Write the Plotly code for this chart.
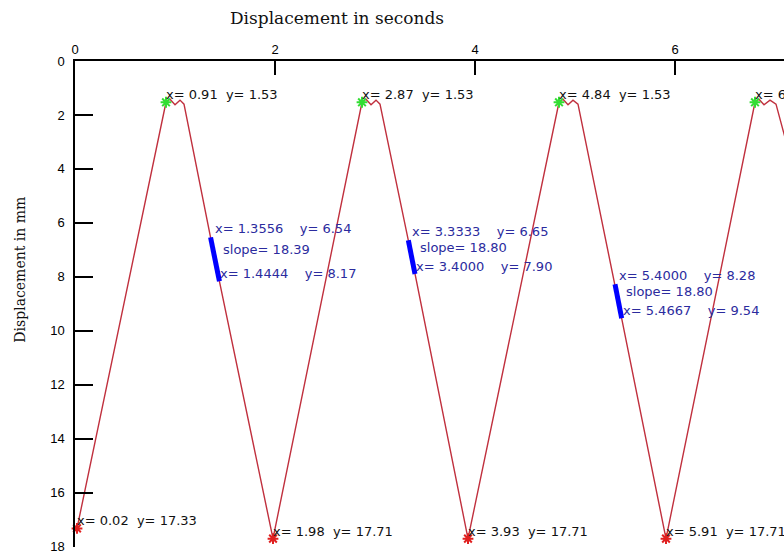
import plotly.graph_objects as go

# ---- data ----
wave_x = [0.02, 0.91, 0.95, 1.00, 1.05, 1.09, 1.3556, 1.4444, 1.98,
          2.87, 2.91, 2.96, 3.01, 3.05, 3.3333, 3.4000, 3.93,
          4.84, 4.88, 4.93, 4.98, 5.03, 5.4000, 5.4667, 5.91,
          6.80, 6.84, 6.89, 6.95, 7.01, 7.30]
wave_y = [17.33, 1.53, 1.42, 1.62, 1.45, 1.60, 6.54, 8.17, 17.71,
          1.53, 1.42, 1.62, 1.45, 1.60, 6.65, 7.90, 17.71,
          1.53, 1.42, 1.62, 1.45, 1.60, 8.28, 9.54, 17.71,
          1.53, 1.42, 1.62, 1.45, 1.60, 5.60]

peak_x = [0.91, 2.87, 4.84, 6.80]
peak_y = [1.53, 1.53, 1.53, 1.53]
low_x = [0.02, 1.98, 3.93, 5.91]
low_y = [17.33, 17.71, 17.71, 17.71]

seg_x0 = [1.3556, 3.3333, 5.4000]
seg_y0 = [6.54, 6.65, 8.28]
seg_x1 = [1.4444, 3.4000, 5.4667]
seg_y1 = [8.17, 7.90, 9.54]
seg_slope = [18.39, 18.80, 18.80]

x_ticks = [0, 2, 4, 6]
y_ticks = [0, 2, 4, 6, 8, 10, 12, 14, 16, 18]

NB = "\u00a0"
BLUE_TXT = "#2b2b9e"
LBL_FONT = dict(family="DejaVu Sans", size=13)

fig = go.Figure()

fig.add_trace(go.Scatter(x=wave_x, y=wave_y, mode="lines",
                         line=dict(color="#c0303e", width=1.4),
                         hoverinfo="skip", showlegend=False))

for x0, y0, x1, y1 in zip(seg_x0, seg_y0, seg_x1, seg_y1):
    fig.add_trace(go.Scatter(x=[x0, x1], y=[y0, y1], mode="lines",
                             line=dict(color="#0000ff", width=5),
                             showlegend=False, hoverinfo="skip"))

fig.add_trace(go.Scatter(x=peak_x, y=peak_y, mode="markers",
                         marker=dict(symbol="asterisk-open", size=9, color="#33dd33",
                                     line=dict(color="#33dd33", width=2)),
                         showlegend=False, cliponaxis=False))
fig.add_trace(go.Scatter(x=low_x, y=low_y, mode="markers",
                         marker=dict(symbol="asterisk-open", size=9, color="#e02020",
                                     line=dict(color="#e02020", width=2)),
                         showlegend=False, cliponaxis=False))

ann = []
for x, y in list(zip(peak_x, peak_y)) + list(zip(low_x, low_y)):
    ann.append(dict(x=x, y=y, xref="x", yref="y",
                    text=f"x= {x:.2f}{NB*2}y= {y:.2f}",
                    showarrow=False, xanchor="left", yanchor="bottom",
                    xshift=-2, yshift=-2,
                    font=dict(color="#111111", **LBL_FONT)))

for x0, y0, x1, y1, s in zip(seg_x0, seg_y0, seg_x1, seg_y1, seg_slope):
    ann.append(dict(x=x0, y=y0, xref="x", yref="y",
                    text=f"x= {x0:.4f}{NB*4}y= {y0:.2f}",
                    showarrow=False, xanchor="left", yanchor="bottom",
                    xshift=2, yshift=-1,
                    font=dict(color=BLUE_TXT, **LBL_FONT)))
    ann.append(dict(x=(x0 + x1) / 2, y=(y0 + y1) / 2, xref="x", yref="y",
                    text=f"slope= {s:.2f}",
                    showarrow=False, xanchor="left", yanchor="middle",
                    xshift=6, yshift=10,
                    font=dict(color=BLUE_TXT, **LBL_FONT)))
    ann.append(dict(x=x1, y=y1, xref="x", yref="y",
                    text=f"x= {x1:.4f}{NB*4}y= {y1:.2f}",
                    showarrow=False, xanchor="left", yanchor="bottom",
                    xshift=-1, yshift=-2,
                    font=dict(color=BLUE_TXT, **LBL_FONT)))

# y axis title
ann.append(dict(x=-0.078, y=0.57, xref="paper", yref="paper",
                text="Displacement in mm", textangle=-90, showarrow=False,
                xanchor="center", yanchor="middle",
                font=dict(family="DejaVu Serif", size=14, color="#111111")))

fig.update_layout(
    width=784, height=554,
    margin=dict(l=75, r=0, t=61, b=7),
    paper_bgcolor="white", plot_bgcolor="white",
    title=dict(text="Displacement in seconds", x=337 / 784, xanchor="center",
               y=1 - 18 / 554, yanchor="middle", yref="container",
               font=dict(family="DejaVu Serif", size=17, color="#111111")),
    annotations=ann,
    showlegend=False,
)

fig.update_xaxes(side="top", range=[0, 7.09], tickvals=x_ticks,
                 ticktext=[str(v) for v in x_ticks],
                 ticks="inside", ticklen=14, tickcolor="black", tickwidth=1.5,
                 showline=True, linecolor="black", linewidth=1.5,
                 showgrid=False, zeroline=False, ticklabeloverflow="allow",
                 tickfont=dict(family="Liberation Sans", size=13, color="black"))
fig.update_yaxes(range=[18.02, 0], tickvals=y_ticks,
                 ticktext=[str(v) for v in y_ticks],
                 ticks="inside", ticklen=18, tickcolor="black", tickwidth=1.5,
                 showline=True, linecolor="black", linewidth=1.5,
                 showgrid=False, zeroline=False, ticklabelstandoff=6,
                 ticklabeloverflow="allow",
                 tickfont=dict(family="Liberation Sans", size=13, color="black"))

fig.write_html("out.html")
